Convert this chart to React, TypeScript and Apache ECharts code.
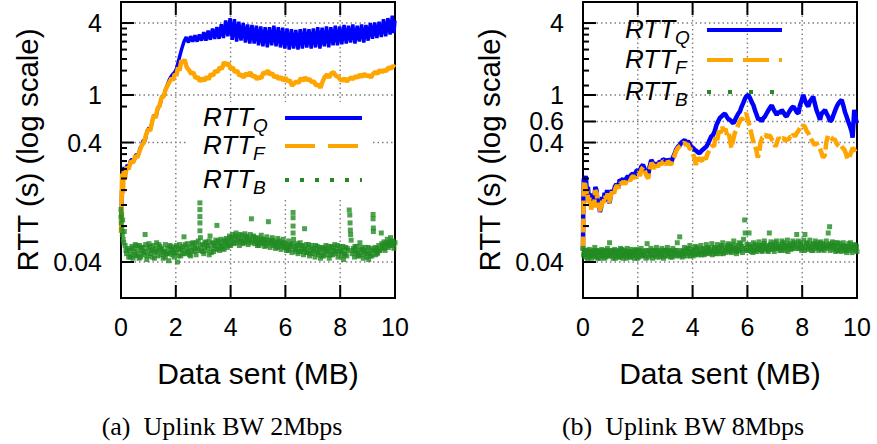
import React, { useEffect, useRef } from 'react';
import * as echarts from 'echarts';

// ---------- axis values ----------
const xTickStep = 2;
const xMinVal = 0;
const xMaxVal = 10;
const xGridValues = [2, 4, 6, 8];
const yMinVal = 0.02;
const yMaxVal = 6;
const yMajorLeft = [0.04, 0.4, 1, 4];
const yMajorRight = [0.04, 0.4, 0.6, 1, 4];
const yMinor = [0.08, 0.12, 0.16, 0.2, 0.24, 0.28, 0.32, 0.36, 0.8, 1.2, 1.6, 2.0, 2.4, 2.8, 3.2, 3.6];

const xTitle = 'Data sent (MB)';
const yTitle = 'RTT (s) (log scale)';
const captionLeft = '(a)\u2002Uplink BW 2Mbps';
const captionRight = '(b)\u2002Uplink BW 8Mbps';
const legendMain = ['RTT', 'RTT', 'RTT'];
const legendSubs = ['Q', 'F', 'B'];

// ---------- (a) 2 Mbps : [MB, RTT seconds] ----------
const leftQ: number[][] = [
  [0.0, 0.09], [0.02, 0.16], [0.04, 0.12], [0.07, 0.22], [0.11, 0.25], [0.16, 0.22], [0.22, 0.26], [0.28, 0.25],
  [0.34, 0.28], [0.4, 0.29], [0.48, 0.28], [0.55, 0.32], [0.62, 0.31], [0.7, 0.36], [0.76, 0.38], [0.82, 0.42],
  [0.88, 0.41], [0.95, 0.5], [1.02, 0.53], [1.08, 0.52], [1.15, 0.62], [1.22, 0.68], [1.28, 0.66], [1.35, 0.78],
  [1.42, 0.82], [1.5, 0.98], [1.56, 0.97], [1.62, 1.1], [1.68, 1.2], [1.75, 1.32], [1.82, 1.42], [1.9, 1.5],
  [1.96, 1.55], [2.02, 1.65], [2.08, 1.85], [2.14, 2.1], [2.22, 2.45], [2.3, 2.8],
  [2.38, 3.05], [2.46, 2.75], [2.54, 3.1], [2.62, 2.8], [2.7, 3.15], [2.78, 2.8], [2.86, 3.2], [2.94, 2.85],
  [3.02, 3.35], [3.1, 2.85], [3.18, 3.45], [3.26, 2.9], [3.34, 3.6], [3.42, 2.95], [3.5, 3.7],
  [3.58, 2.95], [3.66, 3.9], [3.74, 3.0], [3.82, 4.2], [3.9, 3.1], [3.98, 4.4], [4.06, 2.9], [4.14, 4.3],
  [4.22, 2.8], [4.3, 4.1], [4.38, 2.85], [4.46, 4.0],
  [4.54, 2.75], [4.62, 3.9], [4.7, 2.7], [4.78, 3.85], [4.86, 2.7], [4.94, 3.8],
  [5.02, 2.6], [5.1, 3.75], [5.18, 2.55], [5.26, 3.7], [5.34, 2.5], [5.42, 3.7], [5.5, 2.6], [5.58, 3.8],
  [5.66, 2.55], [5.74, 3.7], [5.82, 2.5], [5.9, 3.65], [5.98, 2.45],
  [6.06, 3.6], [6.14, 2.4], [6.22, 3.55], [6.3, 2.45], [6.38, 3.5], [6.46, 2.4], [6.54, 3.55], [6.62, 2.45],
  [6.7, 3.6], [6.78, 2.5], [6.86, 3.55], [6.94, 2.45],
  [7.02, 3.6], [7.1, 2.5], [7.18, 3.7], [7.26, 2.45], [7.34, 3.65], [7.42, 2.55], [7.5, 3.75], [7.58, 2.5],
  [7.66, 3.7], [7.74, 2.6], [7.82, 3.8], [7.9, 2.6], [7.98, 3.75],
  [8.06, 2.65], [8.14, 3.85], [8.22, 2.7], [8.3, 3.8], [8.38, 2.75], [8.46, 3.9], [8.54, 2.7], [8.62, 3.8],
  [8.7, 2.8], [8.78, 3.9], [8.86, 2.75], [8.94, 3.85],
  [9.02, 2.85], [9.1, 4.0], [9.18, 2.95], [9.26, 4.05], [9.34, 3.0], [9.42, 4.1], [9.5, 3.05], [9.58, 4.3],
  [9.66, 3.1], [9.74, 4.4], [9.82, 3.2], [9.9, 4.6], [9.96, 3.3], [10.0, 4.2],
];

const leftF: number[][] = [
  [0.0, 0.07], [0.02, 0.12], [0.04, 0.22], [0.07, 0.15], [0.1, 0.23], [0.15, 0.2], [0.2, 0.25], [0.28, 0.24],
  [0.36, 0.28], [0.44, 0.27], [0.52, 0.31], [0.6, 0.3], [0.68, 0.34], [0.76, 0.38], [0.84, 0.4], [0.92, 0.47],
  [1.0, 0.52], [1.06, 0.5], [1.14, 0.6], [1.2, 0.68], [1.26, 0.64], [1.34, 0.78], [1.4, 0.8], [1.48, 0.95],
  [1.55, 0.97], [1.62, 1.1], [1.7, 1.2], [1.78, 1.3], [1.85, 1.38], [1.9, 1.32],
  [1.96, 1.5], [2.02, 1.45], [2.08, 1.7], [2.14, 1.6], [2.2, 1.95], [2.26, 1.85], [2.32, 1.98], [2.4, 1.7],
  [2.48, 1.62], [2.56, 1.5], [2.64, 1.55], [2.72, 1.38], [2.8, 1.42], [2.88, 1.3], [2.96, 1.38], [3.04, 1.32],
  [3.12, 1.42], [3.2, 1.35], [3.28, 1.5], [3.36, 1.45], [3.44, 1.6], [3.52, 1.55], [3.6, 1.7], [3.68, 1.65],
  [3.76, 1.88], [3.84, 1.78], [3.92, 1.85], [4.0, 1.65], [4.08, 1.7], [4.16, 1.55], [4.24, 1.6], [4.32, 1.45],
  [4.4, 1.48], [4.48, 1.4], [4.56, 1.52], [4.64, 1.45], [4.72, 1.55], [4.8, 1.42], [4.88, 1.45], [4.96, 1.35],
  [5.04, 1.42], [5.12, 1.38], [5.2, 1.55], [5.28, 1.5], [5.36, 1.6], [5.44, 1.48], [5.52, 1.52], [5.6, 1.4],
  [5.68, 1.45], [5.76, 1.35], [5.84, 1.42], [5.92, 1.32], [6.0, 1.4], [6.08, 1.3], [6.16, 1.33], [6.24, 1.2],
  [6.32, 1.25], [6.4, 1.3], [6.48, 1.26], [6.56, 1.38], [6.64, 1.32], [6.72, 1.4], [6.8, 1.33], [6.88, 1.36],
  [6.96, 1.28], [7.04, 1.3], [7.12, 1.2], [7.2, 1.22], [7.28, 1.15], [7.36, 1.3], [7.44, 1.42], [7.52, 1.48],
  [7.6, 1.4], [7.68, 1.52], [7.76, 1.55], [7.84, 1.45], [7.92, 1.42], [8.0, 1.35], [8.08, 1.32], [8.16, 1.38],
  [8.24, 1.3], [8.32, 1.36], [8.4, 1.4], [8.48, 1.36], [8.56, 1.44], [8.64, 1.4], [8.72, 1.48], [8.8, 1.42],
  [8.88, 1.5], [8.96, 1.44], [9.04, 1.46], [9.12, 1.4], [9.2, 1.5], [9.28, 1.56], [9.36, 1.5], [9.44, 1.62],
  [9.52, 1.55], [9.6, 1.62], [9.68, 1.58], [9.76, 1.7], [9.84, 1.65], [9.92, 1.75], [10.0, 1.7],
];

const leftB: number[][] = [
  [0.0, 0.11], [0.0, 0.095], [0.01, 0.085], [0.02, 0.1], [0.03, 0.075], [0.05, 0.068], [0.06, 0.09], [0.08, 0.062],
  [0.1, 0.058], [0.12, 0.072], [0.15, 0.055], [0.18, 0.05], [0.2, 0.047], [0.24, 0.052], [0.28, 0.044],
  [0.32, 0.05], [0.36, 0.046], [0.4, 0.054], [0.44, 0.043], [0.48, 0.049], [0.52, 0.056], [0.56, 0.045], [0.6, 0.051],
  [0.64, 0.047], [0.68, 0.055], [0.72, 0.044], [0.76, 0.05], [0.8, 0.053], [0.84, 0.046], [0.88, 0.068], [0.9, 0.049],
  [0.94, 0.042], [0.98, 0.052], [1.02, 0.057], [1.06, 0.047], [1.1, 0.05], [1.14, 0.044], [1.18, 0.055], [1.22, 0.048],
  [1.26, 0.052], [1.3, 0.058], [1.34, 0.045], [1.38, 0.05], [1.42, 0.054], [1.46, 0.046], [1.5, 0.051], [1.54, 0.043],
  [1.58, 0.049], [1.62, 0.056], [1.66, 0.047], [1.7, 0.052], [1.74, 0.041], [1.78, 0.048], [1.82, 0.054], [1.86, 0.046],
  [1.9, 0.05], [1.94, 0.044], [1.98, 0.053], [2.02, 0.048], [2.06, 0.04], [2.1, 0.051], [2.14, 0.056], [2.18, 0.045],
  [2.22, 0.05], [2.26, 0.054], [2.3, 0.065], [2.34, 0.047], [2.38, 0.052], [2.42, 0.057], [2.46, 0.048], [2.5, 0.053],
  [2.54, 0.045], [2.58, 0.05], [2.62, 0.058], [2.66, 0.049], [2.7, 0.054], [2.74, 0.046], [2.78, 0.052], [2.82, 0.06],
  [2.88, 0.125], [2.88, 0.11], [2.88, 0.096], [2.88, 0.085], [2.88, 0.073], [2.9, 0.064],
  [2.94, 0.05], [2.98, 0.056], [3.02, 0.047], [3.06, 0.053], [3.1, 0.059], [3.14, 0.05], [3.18, 0.055], [3.22, 0.046],
  [3.25, 0.066], [3.3, 0.052], [3.34, 0.058], [3.38, 0.049], [3.42, 0.055], [3.46, 0.061], [3.5, 0.081], [3.52, 0.051],
  [3.56, 0.057], [3.6, 0.05], [3.64, 0.062], [3.68, 0.054], [3.72, 0.059], [3.76, 0.051], [3.8, 0.056], [3.84, 0.063],
  [3.88, 0.053], [3.92, 0.06], [3.96, 0.066], [4.0, 0.055], [4.04, 0.061], [4.08, 0.068], [4.12, 0.057], [4.16, 0.063],
  [4.2, 0.07], [4.24, 0.058], [4.28, 0.064], [4.32, 0.055], [4.36, 0.061], [4.4, 0.067], [4.44, 0.057], [4.48, 0.063],
  [4.52, 0.069], [4.56, 0.059], [4.6, 0.064], [4.64, 0.056], [4.68, 0.062], [4.72, 0.068], [4.76, 0.092], [4.8, 0.06],
  [4.84, 0.066], [4.88, 0.057], [4.92, 0.063], [4.96, 0.058], [5.0, 0.064], [5.04, 0.055], [5.08, 0.061], [5.12, 0.067],
  [5.16, 0.057], [5.2, 0.062], [5.24, 0.054], [5.28, 0.06], [5.32, 0.065], [5.38, 0.087], [5.4, 0.058], [5.44, 0.053],
  [5.48, 0.06], [5.52, 0.064], [5.56, 0.055], [5.6, 0.059], [5.64, 0.052], [5.68, 0.058], [5.72, 0.063], [5.76, 0.054],
  [5.8, 0.058], [5.84, 0.051], [5.88, 0.057], [5.92, 0.062], [5.96, 0.053], [6.0, 0.057], [6.04, 0.05], [6.08, 0.055],
  [6.12, 0.06], [6.16, 0.051], [6.2, 0.056], [6.24, 0.048],
  [6.28, 0.104], [6.28, 0.094], [6.28, 0.08], [6.28, 0.07], [6.3, 0.062],
  [6.34, 0.053], [6.38, 0.049], [6.42, 0.055], [6.46, 0.047], [6.5, 0.052], [6.54, 0.058], [6.58, 0.049], [6.62, 0.054],
  [6.66, 0.046], [6.7, 0.076], [6.72, 0.051], [6.76, 0.056], [6.8, 0.048], [6.84, 0.053], [6.88, 0.045], [6.92, 0.05],
  [6.96, 0.055], [7.0, 0.047], [7.04, 0.052], [7.08, 0.044], [7.12, 0.049], [7.16, 0.054], [7.2, 0.046], [7.24, 0.051],
  [7.28, 0.043], [7.32, 0.048], [7.36, 0.053], [7.4, 0.045], [7.44, 0.05], [7.48, 0.055], [7.52, 0.046], [7.56, 0.051],
  [7.6, 0.043], [7.64, 0.049], [7.68, 0.054], [7.72, 0.046], [7.76, 0.05], [7.8, 0.056], [7.84, 0.047], [7.88, 0.052],
  [7.92, 0.044], [7.96, 0.049], [8.0, 0.054], [8.04, 0.045], [8.08, 0.05], [8.12, 0.042], [8.16, 0.047], [8.2, 0.053],
  [8.24, 0.045], [8.28, 0.05],
  [8.33, 0.109], [8.35, 0.099], [8.36, 0.085], [8.37, 0.074], [8.38, 0.068], [8.4, 0.061],
  [8.44, 0.047], [8.48, 0.052], [8.52, 0.044], [8.56, 0.049], [8.6, 0.054], [8.64, 0.045], [8.68, 0.05], [8.72, 0.058],
  [8.76, 0.046], [8.8, 0.051], [8.84, 0.043], [8.88, 0.048], [8.92, 0.053], [8.96, 0.044], [9.0, 0.049], [9.04, 0.042],
  [9.08, 0.047], [9.12, 0.052], [9.16, 0.045],
  [9.2, 0.1], [9.2, 0.092], [9.21, 0.077], [9.21, 0.072],
  [9.25, 0.05], [9.29, 0.046], [9.33, 0.052], [9.37, 0.048], [9.41, 0.055], [9.45, 0.05], [9.5, 0.07], [9.52, 0.057],
  [9.56, 0.052], [9.6, 0.059], [9.64, 0.05], [9.68, 0.056], [9.72, 0.062], [9.76, 0.053], [9.8, 0.058], [9.84, 0.064],
  [9.88, 0.055], [9.92, 0.06], [9.96, 0.052], [10.0, 0.058],
];

const leftB2: number[][] = [
  [0.34, 0.044], [0.42, 0.052], [0.5, 0.046], [0.58, 0.055], [0.66, 0.043], [0.74, 0.053], [0.82, 0.048], [0.9, 0.056],
  [0.98, 0.045], [1.06, 0.054], [1.14, 0.05], [1.22, 0.043], [1.3, 0.049], [1.38, 0.056], [1.46, 0.052], [1.54, 0.048],
  [1.62, 0.044], [1.7, 0.047], [1.78, 0.055], [1.86, 0.051], [1.94, 0.048],
  [2.02, 0.055], [2.1, 0.045], [2.18, 0.052], [2.26, 0.047], [2.34, 0.056], [2.42, 0.049], [2.5, 0.046], [2.58, 0.057],
  [2.66, 0.052], [2.74, 0.058], [2.82, 0.05], [2.9, 0.055], [2.98, 0.049],
  [3.06, 0.058], [3.14, 0.055], [3.22, 0.06], [3.3, 0.048], [3.38, 0.057], [3.46, 0.052], [3.54, 0.06], [3.62, 0.055],
  [3.7, 0.052], [3.78, 0.061], [3.86, 0.058], [3.94, 0.055],
  [4.02, 0.064], [4.1, 0.058], [4.18, 0.066], [4.26, 0.061], [4.34, 0.068], [4.42, 0.06], [4.5, 0.058], [4.58, 0.066],
  [4.66, 0.061], [4.74, 0.058], [4.82, 0.065], [4.9, 0.06], [4.98, 0.055],
  [5.06, 0.058], [5.14, 0.062], [5.22, 0.058], [5.3, 0.055], [5.38, 0.061], [5.46, 0.057], [5.54, 0.061], [5.62, 0.056],
  [5.7, 0.053], [5.78, 0.06], [5.86, 0.055], [5.94, 0.058],
  [6.02, 0.053], [6.1, 0.05], [6.18, 0.054], [6.26, 0.057], [6.36, 0.051], [6.44, 0.057], [6.52, 0.049], [6.6, 0.055],
  [6.68, 0.051], [6.76, 0.048], [6.84, 0.056], [6.92, 0.047],
  [7.02, 0.051], [7.1, 0.055], [7.18, 0.048], [7.26, 0.053], [7.34, 0.045], [7.42, 0.052], [7.5, 0.049], [7.58, 0.054],
  [7.66, 0.046], [7.74, 0.053], [7.82, 0.049], [7.9, 0.055],
  [8.02, 0.049], [8.1, 0.054], [8.18, 0.046], [8.26, 0.052], [8.46, 0.05], [8.54, 0.054], [8.62, 0.048], [8.7, 0.045],
  [8.78, 0.053], [8.86, 0.05], [8.94, 0.047],
  [9.02, 0.053], [9.1, 0.045], [9.18, 0.05], [9.27, 0.053], [9.35, 0.047], [9.43, 0.05], [9.54, 0.055], [9.62, 0.053],
  [9.7, 0.058], [9.78, 0.055], [9.86, 0.059], [9.94, 0.056],
];

// ---------- (b) 8 Mbps ----------
const rightQ: number[][] = [
  [0.0, 0.05], [0.01, 0.12], [0.03, 0.2], [0.06, 0.19], [0.1, 0.21], [0.14, 0.16], [0.18, 0.17], [0.22, 0.13],
  [0.26, 0.15], [0.3, 0.115], [0.35, 0.14], [0.4, 0.12], [0.45, 0.17], [0.49, 0.16], [0.54, 0.12], [0.58, 0.13],
  [0.62, 0.105], [0.66, 0.115], [0.7, 0.14], [0.75, 0.13], [0.79, 0.152], [0.84, 0.14], [0.88, 0.16], [0.93, 0.13],
  [0.97, 0.125], [1.02, 0.15], [1.06, 0.16], [1.1, 0.15], [1.16, 0.17], [1.22, 0.18], [1.28, 0.17], [1.34, 0.195],
  [1.4, 0.19], [1.46, 0.2], [1.52, 0.184], [1.58, 0.2], [1.64, 0.21], [1.7, 0.2], [1.76, 0.215], [1.82, 0.22],
  [1.88, 0.21], [1.94, 0.23], [2.0, 0.236], [2.06, 0.22], [2.12, 0.25], [2.19, 0.26], [2.25, 0.24], [2.31, 0.22],
  [2.37, 0.207], [2.43, 0.25], [2.49, 0.286], [2.55, 0.27], [2.61, 0.25], [2.68, 0.27], [2.74, 0.26], [2.8, 0.28],
  [2.86, 0.27], [2.92, 0.29], [2.98, 0.286], [3.04, 0.27], [3.1, 0.29], [3.16, 0.28], [3.22, 0.27], [3.28, 0.3],
  [3.34, 0.32], [3.4, 0.35], [3.47, 0.37], [3.53, 0.38], [3.59, 0.4], [3.65, 0.41], [3.71, 0.42], [3.77, 0.4],
  [3.83, 0.41], [3.89, 0.39], [3.95, 0.37], [4.02, 0.36], [4.08, 0.347], [4.14, 0.34], [4.2, 0.33], [4.26, 0.325],
  [4.32, 0.34], [4.38, 0.35], [4.44, 0.36], [4.5, 0.37], [4.56, 0.39], [4.62, 0.42], [4.68, 0.45], [4.74, 0.46],
  [4.81, 0.5], [4.87, 0.56], [4.93, 0.6], [4.99, 0.64], [5.05, 0.66], [5.11, 0.68], [5.18, 0.7], [5.24, 0.66],
  [5.3, 0.63], [5.36, 0.62], [5.42, 0.6], [5.49, 0.58], [5.55, 0.62], [5.61, 0.66], [5.67, 0.7], [5.73, 0.73],
  [5.79, 0.8], [5.85, 0.86], [5.91, 0.93], [5.97, 0.98], [6.03, 1.0], [6.09, 0.95], [6.15, 0.88], [6.22, 0.82],
  [6.28, 0.74], [6.34, 0.68], [6.4, 0.62], [6.46, 0.64], [6.52, 0.6], [6.58, 0.64], [6.64, 0.66], [6.7, 0.7],
  [6.76, 0.74], [6.82, 0.78], [6.89, 0.82], [6.95, 0.76], [7.01, 0.72], [7.07, 0.68], [7.13, 0.73], [7.19, 0.7],
  [7.25, 0.75], [7.31, 0.72], [7.37, 0.68], [7.43, 0.66], [7.49, 0.7], [7.55, 0.74], [7.62, 0.78], [7.68, 0.8],
  [7.74, 0.76], [7.8, 0.72], [7.86, 0.7], [7.92, 0.82], [7.98, 0.9], [8.04, 1.0], [8.1, 0.9], [8.16, 0.84],
  [8.22, 0.8], [8.28, 0.88], [8.34, 0.92], [8.4, 0.97], [8.46, 0.85], [8.52, 0.75], [8.59, 0.68], [8.65, 0.62],
  [8.71, 0.7], [8.77, 0.72], [8.83, 0.75], [8.89, 0.7], [8.95, 0.66], [9.02, 0.6], [9.08, 0.62], [9.14, 0.68],
  [9.2, 0.74], [9.26, 0.8], [9.32, 0.85], [9.38, 0.88], [9.44, 0.91], [9.5, 0.82], [9.56, 0.72], [9.62, 0.66],
  [9.68, 0.6], [9.74, 0.55], [9.8, 0.5], [9.84, 0.44], [9.9, 0.75], [9.96, 0.62], [10.0, 0.58],
];

const rightF: number[][] = [
  [0.0, 0.05], [0.01, 0.08], [0.02, 0.15], [0.04, 0.19], [0.08, 0.18], [0.12, 0.15], [0.16, 0.16], [0.2, 0.125],
  [0.25, 0.14], [0.3, 0.11], [0.35, 0.13], [0.4, 0.115], [0.45, 0.16], [0.5, 0.15], [0.55, 0.115], [0.6, 0.12],
  [0.64, 0.105], [0.7, 0.13], [0.75, 0.125], [0.8, 0.145], [0.85, 0.135], [0.9, 0.15], [0.95, 0.125], [1.0, 0.14],
  [1.06, 0.155], [1.12, 0.145], [1.18, 0.165], [1.24, 0.175], [1.3, 0.165], [1.36, 0.185], [1.42, 0.18], [1.48, 0.19],
  [1.54, 0.178], [1.6, 0.195], [1.66, 0.2], [1.72, 0.19], [1.78, 0.205], [1.84, 0.21], [1.9, 0.2], [1.96, 0.22],
  [2.02, 0.225], [2.08, 0.21], [2.14, 0.24], [2.2, 0.25], [2.26, 0.23], [2.32, 0.21], [2.38, 0.2], [2.44, 0.24],
  [2.5, 0.27], [2.56, 0.26], [2.62, 0.24], [2.68, 0.26], [2.74, 0.25], [2.8, 0.27], [2.86, 0.26], [2.92, 0.28],
  [2.98, 0.275], [3.04, 0.26], [3.1, 0.28], [3.16, 0.27], [3.22, 0.26], [3.28, 0.29], [3.34, 0.31], [3.4, 0.34],
  [3.46, 0.36], [3.52, 0.37], [3.58, 0.38], [3.64, 0.39], [3.7, 0.4], [3.76, 0.38], [3.82, 0.39], [3.88, 0.36],
  [3.94, 0.35], [4.0, 0.33], [4.06, 0.3], [4.12, 0.26], [4.18, 0.3], [4.24, 0.28], [4.3, 0.3], [4.36, 0.27],
  [4.42, 0.3], [4.48, 0.29], [4.54, 0.32], [4.6, 0.34], [4.66, 0.36], [4.72, 0.38], [4.78, 0.37],
  [4.84, 0.45], [4.9, 0.42], [4.96, 0.5], [5.02, 0.48], [5.08, 0.54], [5.14, 0.5], [5.2, 0.52], [5.26, 0.46],
  [5.32, 0.48], [5.38, 0.4], [5.42, 0.36], [5.48, 0.42], [5.54, 0.48], [5.6, 0.51], [5.66, 0.56], [5.72, 0.6],
  [5.78, 0.64], [5.84, 0.62], [5.9, 0.68], [5.96, 0.7], [6.02, 0.62], [6.08, 0.55], [6.14, 0.48], [6.2, 0.42],
  [6.26, 0.38], [6.32, 0.35], [6.38, 0.3], [6.42, 0.32], [6.48, 0.4], [6.54, 0.44], [6.6, 0.45], [6.66, 0.47],
  [6.72, 0.44], [6.78, 0.46], [6.84, 0.45], [6.9, 0.42], [6.96, 0.4], [7.02, 0.37], [7.08, 0.4], [7.14, 0.44],
  [7.2, 0.42], [7.26, 0.43], [7.32, 0.44], [7.38, 0.41], [7.44, 0.43], [7.5, 0.42], [7.56, 0.45], [7.62, 0.44],
  [7.68, 0.47], [7.74, 0.45], [7.8, 0.48], [7.86, 0.5], [7.92, 0.53], [7.98, 0.52], [8.04, 0.56], [8.1, 0.54],
  [8.16, 0.5], [8.22, 0.48], [8.28, 0.45], [8.34, 0.42], [8.4, 0.4], [8.46, 0.38], [8.52, 0.4], [8.58, 0.37],
  [8.64, 0.36], [8.7, 0.33], [8.76, 0.3], [8.82, 0.31], [8.88, 0.4], [8.94, 0.46], [9.0, 0.45], [9.06, 0.44],
  [9.12, 0.42], [9.18, 0.43], [9.24, 0.4], [9.3, 0.38], [9.36, 0.37], [9.42, 0.38], [9.48, 0.36], [9.54, 0.35],
  [9.6, 0.32], [9.66, 0.29], [9.72, 0.3], [9.78, 0.33], [9.84, 0.36], [9.9, 0.35], [9.96, 0.33], [10.0, 0.34],
];

const rightB: number[][] = [
  [0.0, 0.052], [0.02, 0.046], [0.05, 0.05], [0.08, 0.044], [0.11, 0.049], [0.14, 0.046], [0.17, 0.042], [0.2, 0.048],
  [0.23, 0.051], [0.26, 0.045], [0.29, 0.049], [0.32, 0.043], [0.35, 0.047], [0.38, 0.05], [0.43, 0.053], [0.44, 0.045],
  [0.47, 0.048], [0.5, 0.044], [0.53, 0.049], [0.56, 0.046], [0.59, 0.05], [0.62, 0.043], [0.65, 0.048], [0.68, 0.051],
  [0.71, 0.045], [0.74, 0.049], [0.77, 0.046], [0.8, 0.05], [0.83, 0.044], [0.86, 0.048], [0.89, 0.052], [0.92, 0.046],
  [0.97, 0.058], [0.98, 0.049], [1.01, 0.045], [1.04, 0.05], [1.07, 0.047], [1.1, 0.043], [1.13, 0.048], [1.16, 0.051],
  [1.19, 0.045], [1.22, 0.049], [1.25, 0.046], [1.28, 0.05], [1.31, 0.044], [1.34, 0.048], [1.37, 0.052], [1.4, 0.046],
  [1.43, 0.049], [1.46, 0.043], [1.49, 0.047], [1.52, 0.05], [1.55, 0.045], [1.58, 0.048], [1.61, 0.052], [1.64, 0.046],
  [1.67, 0.049], [1.7, 0.044], [1.73, 0.048], [1.76, 0.051], [1.79, 0.045], [1.82, 0.049], [1.85, 0.047], [1.88, 0.043],
  [1.91, 0.048], [1.94, 0.051], [1.97, 0.046], [2.0, 0.049], [2.04, 0.044], [2.08, 0.048], [2.12, 0.052], [2.16, 0.046],
  [2.2, 0.049], [2.24, 0.045], [2.28, 0.05], [2.34, 0.057], [2.36, 0.047], [2.4, 0.044], [2.44, 0.049], [2.48, 0.052],
  [2.52, 0.046], [2.56, 0.05], [2.6, 0.045], [2.64, 0.048], [2.68, 0.053], [2.72, 0.046], [2.76, 0.05], [2.8, 0.044],
  [2.84, 0.049], [2.88, 0.052], [2.92, 0.047], [2.96, 0.05], [3.0, 0.045], [3.04, 0.049], [3.08, 0.053], [3.12, 0.047],
  [3.16, 0.05], [3.2, 0.044], [3.24, 0.049], [3.28, 0.052], [3.32, 0.046], [3.36, 0.05], [3.4, 0.045], [3.44, 0.058],
  [3.48, 0.048], [3.53, 0.065], [3.54, 0.046], [3.58, 0.05], [3.62, 0.044], [3.66, 0.049], [3.7, 0.053], [3.74, 0.047],
  [3.78, 0.051], [3.82, 0.045], [3.86, 0.049], [3.9, 0.055], [3.94, 0.047], [3.98, 0.051], [4.02, 0.045], [4.06, 0.05],
  [4.1, 0.054], [4.14, 0.047], [4.18, 0.051], [4.22, 0.046], [4.26, 0.05], [4.3, 0.055], [4.34, 0.048], [4.38, 0.052],
  [4.42, 0.046], [4.46, 0.05], [4.5, 0.056], [4.54, 0.048], [4.58, 0.052], [4.62, 0.047], [4.66, 0.051], [4.7, 0.057],
  [4.74, 0.049], [4.78, 0.053], [4.82, 0.047], [4.86, 0.051], [4.9, 0.056], [4.94, 0.049], [4.98, 0.053], [5.02, 0.047],
  [5.06, 0.052], [5.1, 0.058], [5.14, 0.049], [5.18, 0.053], [5.22, 0.048], [5.26, 0.052], [5.3, 0.057], [5.34, 0.05],
  [5.38, 0.054], [5.42, 0.048], [5.46, 0.052], [5.5, 0.06], [5.54, 0.05], [5.58, 0.055], [5.62, 0.049], [5.66, 0.053],
  [5.7, 0.058], [5.74, 0.05], [5.78, 0.054], [5.82, 0.048], [5.86, 0.062], [5.9, 0.09], [5.92, 0.07], [5.94, 0.052],
  [5.98, 0.056], [6.02, 0.05], [6.06, 0.07], [6.1, 0.054], [6.14, 0.049], [6.18, 0.053], [6.22, 0.058], [6.26, 0.05],
  [6.3, 0.054], [6.34, 0.049], [6.38, 0.053], [6.42, 0.059], [6.46, 0.051], [6.5, 0.055], [6.54, 0.049], [6.58, 0.054],
  [6.62, 0.06], [6.66, 0.051], [6.7, 0.055], [6.74, 0.05], [6.8, 0.07], [6.82, 0.054], [6.86, 0.059], [6.9, 0.051],
  [6.94, 0.055], [6.98, 0.049], [7.02, 0.054], [7.06, 0.06], [7.1, 0.052], [7.14, 0.056], [7.18, 0.05], [7.22, 0.054],
  [7.26, 0.06], [7.3, 0.052], [7.34, 0.056], [7.38, 0.05], [7.42, 0.055], [7.46, 0.061], [7.5, 0.053], [7.54, 0.057],
  [7.58, 0.051], [7.62, 0.055], [7.66, 0.06], [7.7, 0.052], [7.74, 0.056], [7.8, 0.068], [7.82, 0.054], [7.86, 0.06],
  [7.9, 0.052], [7.94, 0.056], [7.98, 0.05], [8.02, 0.055], [8.06, 0.061], [8.1, 0.068], [8.12, 0.053], [8.16, 0.057],
  [8.2, 0.051], [8.24, 0.055], [8.28, 0.061], [8.32, 0.052], [8.36, 0.056], [8.4, 0.05], [8.44, 0.055], [8.48, 0.06],
  [8.52, 0.052], [8.56, 0.056], [8.6, 0.05], [8.64, 0.054], [8.68, 0.059], [8.72, 0.051], [8.76, 0.055], [8.8, 0.05],
  [8.84, 0.054], [8.88, 0.06], [8.92, 0.052], [8.95, 0.07], [8.98, 0.055], [9.0, 0.079], [9.02, 0.05], [9.06, 0.054],
  [9.1, 0.059], [9.14, 0.051], [9.18, 0.055], [9.22, 0.049], [9.26, 0.054], [9.3, 0.058], [9.34, 0.05], [9.38, 0.054],
  [9.42, 0.049], [9.46, 0.053], [9.5, 0.058], [9.54, 0.05], [9.58, 0.054], [9.62, 0.048], [9.66, 0.052], [9.7, 0.057],
  [9.74, 0.05], [9.78, 0.054], [9.82, 0.048], [9.86, 0.053], [9.9, 0.056], [9.94, 0.05], [9.98, 0.054], [10.0, 0.049],
];

const rightB2: number[][] = [
  [0.06, 0.047], [0.14, 0.05], [0.22, 0.044], [0.3, 0.047], [0.38, 0.045], [0.46, 0.05], [0.54, 0.043], [0.62, 0.048],
  [0.7, 0.046], [0.78, 0.043], [0.86, 0.05], [0.94, 0.045], [1.02, 0.048], [1.1, 0.05], [1.18, 0.043], [1.26, 0.048],
  [1.34, 0.044], [1.42, 0.051], [1.5, 0.045], [1.58, 0.043], [1.66, 0.047], [1.74, 0.044], [1.82, 0.046], [1.9, 0.05],
  [1.98, 0.043], [2.06, 0.05], [2.14, 0.045], [2.22, 0.047], [2.3, 0.043], [2.38, 0.05], [2.46, 0.046], [2.54, 0.043],
  [2.62, 0.05], [2.7, 0.044], [2.78, 0.048], [2.86, 0.045], [2.94, 0.043], [3.02, 0.05], [3.1, 0.045], [3.18, 0.048],
  [3.26, 0.044], [3.34, 0.048], [3.42, 0.05], [3.5, 0.045], [3.6, 0.047], [3.68, 0.045], [3.76, 0.049], [3.84, 0.052],
  [3.92, 0.045], [4.0, 0.049], [4.08, 0.046], [4.16, 0.053], [4.24, 0.048], [4.32, 0.046], [4.4, 0.051], [4.48, 0.047],
  [4.56, 0.053], [4.64, 0.049], [4.72, 0.046], [4.8, 0.052], [4.88, 0.047], [4.96, 0.05], [5.04, 0.055], [5.12, 0.047],
  [5.2, 0.05], [5.28, 0.055], [5.36, 0.049], [5.44, 0.056], [5.52, 0.052], [5.6, 0.047], [5.68, 0.051], [5.76, 0.057],
  [5.84, 0.052], [5.96, 0.05], [6.04, 0.056], [6.12, 0.052], [6.2, 0.048], [6.28, 0.056], [6.36, 0.051], [6.44, 0.055],
  [6.52, 0.05], [6.6, 0.057], [6.68, 0.053], [6.76, 0.049], [6.84, 0.056], [6.92, 0.052], [7.0, 0.058], [7.08, 0.052],
  [7.16, 0.054], [7.24, 0.05], [7.32, 0.058], [7.4, 0.053], [7.48, 0.049], [7.56, 0.055], [7.64, 0.052], [7.72, 0.058],
  [7.84, 0.052], [7.92, 0.058], [8.0, 0.053], [8.08, 0.05], [8.18, 0.058], [8.26, 0.053], [8.34, 0.05], [8.42, 0.057],
  [8.5, 0.054], [8.58, 0.058], [8.66, 0.052], [8.74, 0.057], [8.82, 0.053], [8.9, 0.056], [9.04, 0.057], [9.12, 0.053],
  [9.2, 0.058], [9.28, 0.05], [9.36, 0.057], [9.44, 0.052], [9.52, 0.055], [9.6, 0.05], [9.68, 0.054], [9.76, 0.058],
  [9.84, 0.052], [9.92, 0.055],
];

// ---------- styling ----------
const SANS = "'Liberation Sans', Arial, Helvetica, sans-serif";
const SERIF = "'Liberation Serif', 'Times New Roman', serif";
const BLUE = '#0000ff';
const ORANGE = '#ffa500';
const GREEN = '#228b22';
const GRIDC = '#7f7f7f';

const LOG_MIN = Math.log10(yMinVal);
const LOG_MAX = Math.log10(yMaxVal);

function fmtLog(v: number) {
  return String(parseFloat(Math.pow(10, v).toPrecision(3)));
}

function xAxesFor(g: number) {
  return [
    {
      gridIndex: g, type: 'value', position: 'bottom', min: xMinVal, max: xMaxVal, interval: xTickStep,
      axisLine: { show: false, onZero: false }, axisTick: { show: false },
      axisLabel: { show: true, margin: 16, fontSize: 25, fontFamily: SANS, color: '#000', showMinLabel: true, showMaxLabel: true },
      splitLine: { show: false },
    },
  ];
}

function yAxesFor(g: number, majors: number[]) {
  const majorLog = majors.map((v) => Math.log10(v));
  return [
    {
      gridIndex: g, type: 'log', logBase: 10, position: 'left', min: yMinVal, max: yMaxVal,
      axisLine: { show: false, onZero: false }, axisTick: { show: false }, axisLabel: { show: false },
      splitLine: { show: false }, minorTick: { show: false }, minorSplitLine: { show: false },
    },
    {
      gridIndex: g, type: 'value', position: 'left', min: LOG_MIN, max: LOG_MAX,
      axisLine: { show: false, onZero: false }, axisTick: { show: false },
      axisLabel: { show: true, customValues: majorLog, margin: 19, fontSize: 25, fontFamily: SANS, color: '#000', formatter: fmtLog },
      splitLine: { show: false },
    },
  ];
}

const DOTTED = { stroke: GRIDC, lineWidth: 1.4, lineDash: [1.5, 3], fill: null };
const SOLID = { stroke: '#000', lineWidth: 2, fill: null };

// one custom series per kind of guide: vertical grid lines + x ticks, horizontal grid lines + y ticks
function guideSeries(xi: number, yi: number, majors: number[]) {
  const common = { type: 'custom', xAxisIndex: xi, yAxisIndex: yi, silent: true, clip: false, animation: false };
  return [
    {
      ...common, z: 1,
      data: xGridValues.map((v) => [v, yMaxVal]),
      renderItem: (_p: any, api: any) => {
        const a = api.coord([api.value(0), yMaxVal]);
        const b = api.coord([api.value(0), yMinVal]);
        return { type: 'line', shape: { x1: a[0], y1: a[1], x2: b[0], y2: b[1] }, style: DOTTED };
      },
    },
    {
      ...common, z: 1,
      data: majors.map((v) => [xMinVal, v]),
      renderItem: (_p: any, api: any) => {
        const a = api.coord([xMinVal, api.value(1)]);
        const b = api.coord([xMaxVal, api.value(1)]);
        return { type: 'line', shape: { x1: a[0], y1: a[1], x2: b[0], y2: b[1] }, style: DOTTED };
      },
    },
    {
      ...common, z: 30,
      data: xGridValues.map((v) => [v, yMaxVal]),
      renderItem: (_p: any, api: any) => {
        const a = api.coord([api.value(0), yMaxVal]);
        const b = api.coord([api.value(0), yMinVal]);
        return {
          type: 'group',
          children: [
            { type: 'line', shape: { x1: a[0], y1: a[1], x2: a[0], y2: a[1] + 13 }, style: SOLID },
            { type: 'line', shape: { x1: b[0], y1: b[1], x2: b[0], y2: b[1] - 13 }, style: SOLID },
          ],
        };
      },
    },
    {
      ...common, z: 30,
      data: majors.map((v) => [xMinVal, v]),
      renderItem: (_p: any, api: any) => {
        const a = api.coord([xMinVal, api.value(1)]);
        return { type: 'line', shape: { x1: a[0], y1: a[1], x2: a[0] + 13, y2: a[1] }, style: SOLID };
      },
    },
    {
      ...common, z: 30,
      data: yMinor.map((v) => [xMinVal, v]),
      renderItem: (_p: any, api: any) => {
        const a = api.coord([xMinVal, api.value(1)]);
        return { type: 'line', shape: { x1: a[0], y1: a[1], x2: a[0] + 6, y2: a[1] }, style: SOLID };
      },
    },
  ];
}

function legendGraphics(x0: number, lineX0: number, lineX1: number, rows: number[], dash: number[], dot: number[]) {
  const els: any[] = [];
  const colors = [BLUE, ORANGE, GREEN];
  const dashes = [null, dash, dot];
  rows.forEach((y, i) => {
    els.push({
      type: 'text', x: x0, y, z: 20,
      style: { text: legendMain[i], font: `italic 26px ${SANS}`, fill: '#000', align: 'left', verticalAlign: 'middle' },
    });
    els.push({
      type: 'text', x: x0 + 50, y: y + 8, z: 20,
      style: { text: legendSubs[i], font: `italic 19px ${SANS}`, fill: '#000', align: 'left', verticalAlign: 'middle' },
    });
    els.push({
      type: 'line', z: 20,
      shape: { x1: lineX0, y1: y + 1, x2: lineX1, y2: y + 1 },
      style: { stroke: colors[i], lineWidth: 4, lineDash: dashes[i] || undefined, lineCap: 'butt' },
    });
  });
  return els;
}

export default function App() {
  const ref = useRef<HTMLDivElement>(null);
  useEffect(() => {
    if (!ref.current) return;
    const chart = echarts.init(ref.current, undefined, { renderer: 'svg' });
    const gridBase = { top: 2, width: 274, height: 296, show: true, borderColor: '#000', borderWidth: 2, backgroundColor: 'transparent', containLabel: false, outerBoundsMode: 'none' };
    const option: any = {
      animation: false,
      backgroundColor: '#fff',
      grid: [
        { ...gridBase, left: 121 },
        { ...gridBase, left: 583 },
      ],
      xAxis: [...xAxesFor(0), ...xAxesFor(1)],
      yAxis: [...yAxesFor(0, yMajorLeft), ...yAxesFor(1, yMajorRight)],
      series: [
        ...guideSeries(0, 0, yMajorLeft),
        ...guideSeries(1, 2, yMajorRight),
        { name: 'RTT_Q', type: 'line', xAxisIndex: 0, yAxisIndex: 0, data: leftQ, showSymbol: false, z: 3,
          lineStyle: { color: BLUE, width: 3.5 }, itemStyle: { color: BLUE } },
        { name: 'RTT_F', type: 'line', xAxisIndex: 0, yAxisIndex: 0, data: leftF, showSymbol: false, z: 4,
          lineStyle: { color: ORANGE, width: 4.5 }, itemStyle: { color: ORANGE } },
        { name: 'RTT_B', type: 'scatter', xAxisIndex: 0, yAxisIndex: 0, data: [...leftB, ...leftB2], symbol: 'rect', symbolSize: 5, z: 5,
          itemStyle: { color: GREEN } },
        { name: 'RTT_Q', type: 'line', xAxisIndex: 1, yAxisIndex: 2, data: rightQ, showSymbol: false, z: 3,
          lineStyle: { color: BLUE, width: 4.5 }, itemStyle: { color: BLUE } },
        { name: 'RTT_F', type: 'line', xAxisIndex: 1, yAxisIndex: 2, data: rightF, showSymbol: false, z: 4,
          lineStyle: { color: ORANGE, width: 4.5, type: [14, 4] }, itemStyle: { color: ORANGE } },
        { name: 'RTT_B', type: 'scatter', xAxisIndex: 1, yAxisIndex: 2, data: [...rightB, ...rightB2], symbol: 'rect', symbolSize: 5, z: 5,
          itemStyle: { color: GREEN } },
      ],
      graphic: [
        { type: 'rect', z: 2, shape: { x: 188, y: 102, width: 185, height: 96 }, style: { fill: '#fff' } },
        ...legendGraphics(203, 285, 362, [117, 145, 179], [30, 13], [4, 11]),
        ...legendGraphics(625, 707, 782, [29, 59, 91], [26, 10], [4, 17]),
        { type: 'text', x: 258, y: 373, z: 20, style: { text: xTitle, font: `30px ${SANS}`, fill: '#000', align: 'center', verticalAlign: 'middle' } },
        { type: 'text', x: 720, y: 373, z: 20, style: { text: xTitle, font: `30px ${SANS}`, fill: '#000', align: 'center', verticalAlign: 'middle' } },
        { type: 'text', x: 27, y: 150, rotation: Math.PI / 2, z: 20, style: { text: yTitle, font: `29.5px ${SANS}`, fill: '#000', align: 'center', verticalAlign: 'middle' } },
        { type: 'text', x: 489, y: 150, rotation: Math.PI / 2, z: 20, style: { text: yTitle, font: `29.5px ${SANS}`, fill: '#000', align: 'center', verticalAlign: 'middle' } },
        { type: 'text', x: 222, y: 426, z: 20, style: { text: captionLeft, font: `26px ${SERIF}`, fill: '#000', align: 'center', verticalAlign: 'middle' } },
        { type: 'text', x: 683, y: 426, z: 20, style: { text: captionRight, font: `26px ${SERIF}`, fill: '#000', align: 'center', verticalAlign: 'middle' } },
      ],
    };
    chart.setOption(option);
    return () => chart.dispose();
  }, []);
  return (
    <div
      ref={ref}
      style={{ position: 'fixed', left: 0, top: 0, width: 877, height: 444, background: '#fff' }}
    />
  );
}
